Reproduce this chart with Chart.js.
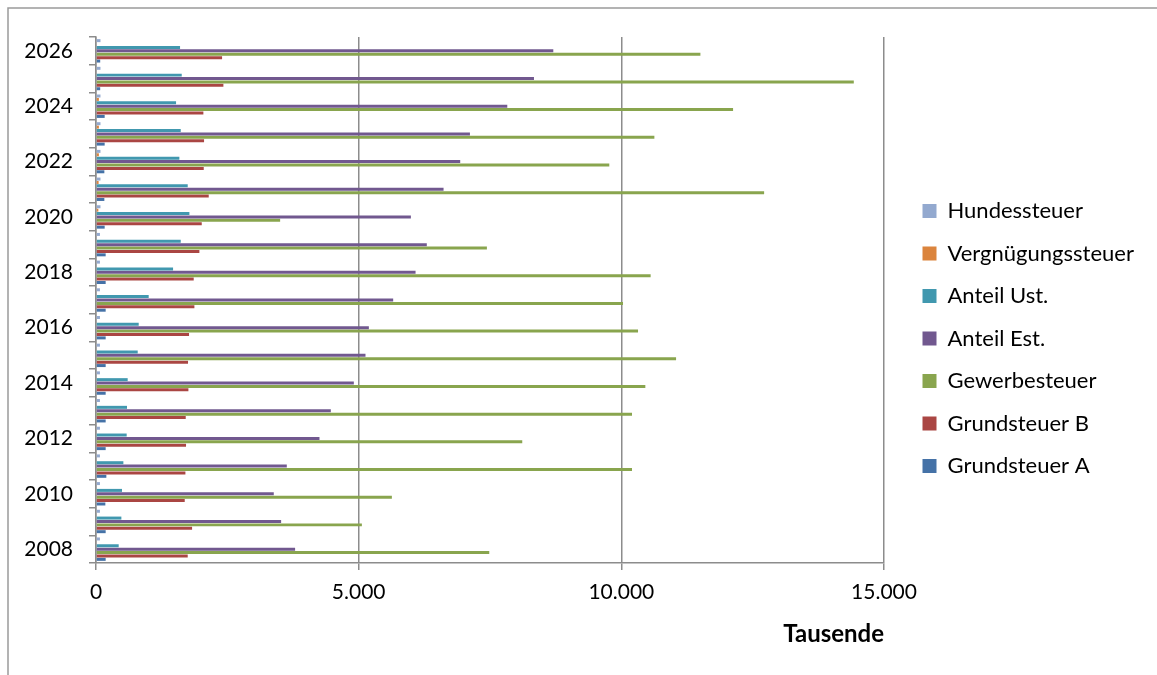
<!DOCTYPE html>
<html>
<head>
<meta charset="utf-8">
<script src="https://cdn.jsdelivr.net/npm/chart.js@4/dist/chart.umd.min.js"></script>
<style>
  html, body { margin: 0; padding: 0; background: #ffffff; }
  #wrap { position: relative; width: 1157px; height: 675px; overflow: hidden; }
  canvas { position: absolute; left: 0; top: 0; }
</style>
</head>
<body>
<div id="wrap"><canvas id="c" width="1157" height="675"></canvas></div>
<script>
const years = ['2008','2009','2010','2011','2012','2013','2014','2015','2016','2017','2018','2019','2020','2021','2022','2023','2024','2025','2026'];
const xTicks = [0, 5000, 10000, 15000];

const hundessteuer      = [75, 75, 75, 75, 75, 75, 75, 75, 75, 75, 75, 75, 85, 85, 85, 85, 85, 85, 85];
const vergnuegungssteuer= [0, 0, 0, 0, 0, 0, 0, 0, 0, 0, 0, 0, 45, 50, 55, 55, 55, 0, 0];
const anteilUst         = [432, 483, 495, 521, 584, 590, 603, 794, 813, 1003, 1467, 1613, 1778, 1746, 1587, 1613, 1524, 1632, 1600];
const anteilEst         = [3790, 3524, 3384, 3632, 4254, 4470, 4908, 5130, 5194, 5657, 6083, 6297, 5994, 6616, 6933, 7118, 7829, 8337, 8705];
const gewerbesteuer     = [7486, 5061, 5632, 10203, 8114, 10203, 10457, 11042, 10318, 10032, 10558, 7441, 3505, 12718, 9771, 10629, 12127, 14425, 11505];
const grundsteuerB      = [1746, 1829, 1689, 1702, 1714, 1708, 1759, 1752, 1771, 1873, 1860, 1968, 2013, 2146, 2051, 2057, 2044, 2425, 2400];
const grundsteuerA      = [184, 184, 178, 197, 184, 184, 184, 184, 184, 184, 184, 184, 165, 159, 159, 165, 165, 80, 80];

const seriesNames  = ['Hundessteuer','Vergnügungssteuer','Anteil Ust.','Anteil Est.','Gewerbesteuer','Grundsteuer B','Grundsteuer A'];
const seriesData   = [hundessteuer, vergnuegungssteuer, anteilUst, anteilEst, gewerbesteuer, grundsteuerB, grundsteuerA];
const seriesColors = ['#93A9CF','#DB843D','#4198AF','#71588F','#89A54E','#AA4643','#4572A7'];

const AXIS = '#8c8c8c';
const FONT = 'Lato, "Open Sans", sans-serif';

function fmt(v) {
  return String(v).replace(/\B(?=(\d{3})+(?!\d))/g, '.');
}

const framePlugin = {
  id: 'frame',
  beforeDraw(chart) {
    const ctx = chart.ctx;
    ctx.save();
    ctx.fillStyle = '#ffffff';
    ctx.fillRect(0, 0, chart.width, chart.height);
    ctx.strokeStyle = '#9a9a9a';
    ctx.lineWidth = 1.5;
    ctx.beginPath();
    ctx.moveTo(8, chart.height + 5);
    ctx.lineTo(8, 8);
    ctx.lineTo(chart.width + 5, 8);
    ctx.stroke();
    ctx.restore();
  },
  afterLayout(chart) {
    const lg = chart.legend;
    if (lg) {
      lg.left += 18; lg.right += 18;
      lg.top -= 17.5; lg.bottom -= 17.5;
    }
  }
};

const legendWidthPlugin = {
  id: 'legendWidth',
  afterInit(chart) {
    const lg = chart.legend;
    if (lg && !lg._patched) {
      const orig = lg.fit;
      lg.fit = function () { orig.call(this); this.width = 1157 - 884; };
      lg._patched = true;
    }
  }
};

new Chart(document.getElementById('c'), {
  type: 'bar',
  data: {
    labels: years,
    datasets: seriesNames.map((n, i) => ({
      label: n,
      data: seriesData[i],
      backgroundColor: seriesColors[i],
      borderWidth: 0,
      categoryPercentage: 0.86,
      barPercentage: 0.88
    }))
  },
  options: {
    indexAxis: 'y',
    responsive: false,
    animation: false,
    devicePixelRatio: 1,
    layout: { padding: { top: 37, left: 0, right: 0, bottom: 0 } },
    plugins: {
      legend: {
        position: 'right',
        align: 'center',
        labels: {
          font: { family: FONT, size: 22 },
          color: '#000',
          boxWidth: 14,
          boxHeight: 14,
          padding: 20.5
        }
      },
      tooltip: { enabled: false },
      title: { display: false }
    },
    scales: {
      y: {
        type: 'category',
        reverse: true,
        offset: true,
        border: { display: true, color: AXIS, width: 1.5 },
        grid: { display: true, drawOnChartArea: false, drawTicks: true, tickLength: 7, color: AXIS, lineWidth: 1.5, offset: true },
        ticks: {
          autoSkip: false,
          padding: 16,
          color: '#000',
          font: { family: FONT, size: 21 },
          callback: function (val) {
            const y = this.getLabelForValue(val);
            return (Number(y) % 2 === 0) ? y : '';
          }
        },
        afterFit(scale) { scale.width = 96; }
      },
      x: {
        type: 'linear',
        min: 0,
        max: 15000,
        afterBuildTicks(scale) { scale.ticks = xTicks.map(v => ({ value: v })); },
        border: { display: true, color: AXIS, width: 1.5 },
        grid: { display: true, drawOnChartArea: true, drawTicks: true, tickLength: 7, color: AXIS, lineWidth: 1.5 },
        ticks: {
          padding: 10,
          color: '#000',
          font: { family: FONT, size: 21 },
          callback: (v) => fmt(v)
        },
        title: {
          display: true,
          text: 'Tausende',
          align: 'end',
          color: '#000',
          font: { family: FONT, size: 24, weight: 'bold' },
          padding: { top: 0, bottom: 26.5 }
        },
        afterFit(scale) { scale.height = 675 - 563; }
      }
    }
  },
  plugins: [legendWidthPlugin, framePlugin]
});
</script>
</body>
</html>
